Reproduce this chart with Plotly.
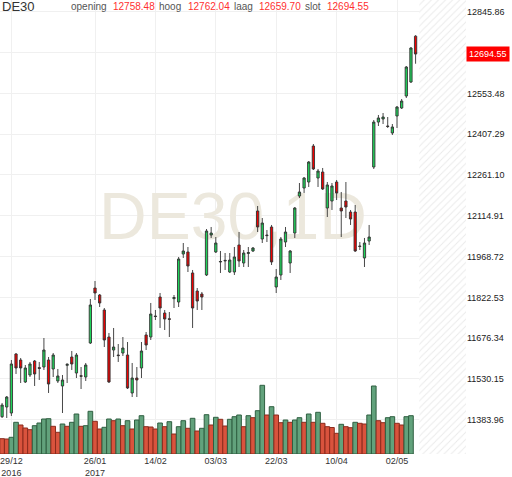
import plotly.graph_objects as go

# DE30 daily candles, bar index on the x axis (last bar = 08/05/2017)
opens = [11395.1, 11429.8, 11408.3, 11619.7, 11598.2, 11519.4, 11544.5, 11594.6, 11571.0, 11573.1,
         11598.2, 11566.0, 11523.0, 11505.1, 11579.0, 11609.0, 11551.6, 11542.0, 11537.3, 11659.1,
         11856.2, 11831.1, 11777.4, 11680.6, 11634.0, 11616.1, 11623.3, 11616.1, 11480.0, 11533.7,
         11569.6, 11687.8, 11680.6, 11755.9, 11823.9, 11766.6, 11746.0, 11818.0, 11806.0, 11978.0,
         11985.2, 11910.0, 11845.4, 11834.7, 11902.8, 12046.1, 11985.2, 11949.4, 11953.0, 11913.5,
         11913.5, 12010.3, 11945.8, 11980.0, 11988.8, 12132.1, 12031.8, 12046.1, 12074.8, 11859.8,
         11902.8, 12021.0, 11945.8, 12053.2, 12185.8, 12214.5, 12236.0, 12364.9, 12250.3, 12271.8,
         12142.8, 12167.9, 12236.0, 12142.8, 12167.9, 12128.5, 12128.5, 12006.7, 11963.7, 12024.6,
         12289.7, 12450.8, 12461.7, 12436.6, 12411.6, 12472.5, 12501.1, 12544.1, 12594.3, 12758.48]
highs = [11444.2, 11469.2, 11598.2, 11623.3, 11605.4, 11580.3, 11591.1, 11598.2, 11591.1, 11677.0,
         11609.0, 11623.3, 11566.0, 11544.5, 11586.0, 11630.5, 11623.3, 11573.1, 11587.5, 11816.8,
         11881.3, 11834.7, 11784.5, 11695.0, 11712.9, 11655.5, 11680.6, 11662.7, 11587.5, 11573.1,
         11662.7, 11698.5, 11802.5, 11777.4, 11838.3, 11777.4, 11770.2, 11831.1, 11967.3, 12017.4,
         12003.1, 11920.7, 11856.2, 11841.9, 12067.6, 12074.8, 12038.9, 11988.8, 11981.6, 11981.6,
         12003.1, 12056.8, 11992.3, 12003.1, 12003.1, 12150.0, 12107.0, 12064.0, 12082.0, 11924.3,
         12038.9, 12074.8, 11992.3, 12146.4, 12232.4, 12253.9, 12311.2, 12372.1, 12282.6, 12286.2,
         12236.0, 12232.4, 12243.2, 12200.2, 12236.0, 12135.7, 12153.6, 12021.0, 12035.4, 12082.0,
         12458.1, 12476.1, 12483.2, 12468.9, 12443.8, 12508.3, 12533.4, 12651.6, 12719.7, 12762.04]
lows = [11390.4, 11390.4, 11397.6, 11548.1, 11515.8, 11515.8, 11537.3, 11505.1, 11526.6, 11562.4,
        11480.0, 11537.3, 11515.8, 11408.3, 11515.8, 11562.4, 11533.7, 11494.3, 11523.0, 11655.5,
        11813.2, 11788.1, 11644.8, 11515.8, 11609.0, 11591.1, 11612.6, 11494.3, 11465.6, 11465.6,
        11533.7, 11634.0, 11669.9, 11741.5, 11712.9, 11705.7, 11680.6, 11784.5, 11788.1, 11963.7,
        11913.5, 11712.9, 11777.4, 11777.4, 11899.2, 12035.4, 11981.6, 11910.0, 11920.7, 11910.0,
        11902.8, 11931.4, 11931.4, 11931.4, 11985.2, 12056.8, 12017.4, 12021.0, 11938.6, 11838.3,
        11884.9, 12003.1, 11910.0, 12035.4, 12178.7, 12196.6, 12218.1, 12279.0, 12218.1, 12207.3,
        12110.6, 12135.7, 12171.5, 12038.9, 12107.0, 12082.0, 11985.2, 11992.3, 11931.4, 12010.3,
        12282.6, 12436.6, 12443.8, 12429.5, 12404.4, 12429.5, 12497.5, 12537.0, 12590.7, 12659.70]
closes = [11437.0, 11465.6, 11583.9, 11569.6, 11569.6, 11569.6, 11583.9, 11548.1, 11568.0, 11634.0,
          11512.2, 11616.1, 11540.9, 11526.6, 11583.0, 11583.9, 11616.1, 11540.0, 11580.3, 11795.3,
          11838.3, 11802.5, 11669.9, 11519.4, 11644.8, 11614.0, 11641.2, 11497.9, 11533.7, 11526.6,
          11630.5, 11652.0, 11763.0, 11754.0, 11784.5, 11745.1, 11744.0, 11822.0, 11960.1, 11988.8,
          11935.0, 11784.5, 11809.6, 11823.9, 12060.4, 12053.2, 12017.4, 11951.0, 11955.0, 11956.5,
          11967.3, 11953.0, 11981.6, 11983.0, 11999.5, 12074.8, 12089.1, 12044.0, 11949.4, 11895.6,
          12031.8, 12056.8, 11988.8, 12142.8, 12200.2, 12250.3, 12307.6, 12282.6, 12275.4, 12210.9,
          12225.3, 12221.7, 12196.6, 12132.1, 12146.4, 12103.4, 11988.8, 12005.0, 12017.4, 12038.9,
          12450.8, 12465.4, 12468.9, 12435.0, 12433.1, 12504.7, 12526.2, 12648.0, 12716.1, 12694.55]
# volume (last, still open bar has none yet)
volumes = [1530, 1500, 1670, 3170, 2900, 2600, 2430, 2830, 3100, 3500,
           3530, 2770, 2170, 3000, 2770, 3170, 4000, 2770, 2830, 4270,
           3270, 2500, 2670, 3500, 3330, 3500, 2830, 3330, 2500, 3400,
           3830, 2730, 2700, 2500, 3100, 2730, 3230, 2000, 2730, 3330,
           2570, 3570, 2300, 2570, 3930, 2900, 3670, 3470, 2800, 3470,
           3730, 3900, 2730, 3830, 3630, 4330, 6870, 3900, 4730, 3900,
           3130, 3400, 3170, 3400, 3630, 3170, 4000, 3170, 4170, 3070,
           2730, 2650, 2070, 2970, 2730, 2630, 3170, 3070, 3000, 3900,
           6800, 3330, 3130, 3630, 3730, 3070, 2900, 3730, 3830, None]

tick_pos = [2, 20, 33, 46, 59, 72, 85]
tick_text = ['29/12<br>2016', '26/01<br>2017', '14/02', '03/03', '22/03', '10/04', '02/05']
price_ticks = [11383.96, 11530.15, 11676.34, 11822.53, 11968.72, 12114.91,
               12261.10, 12407.29, 12553.48, 12699.67, 12845.86]

symbol = 'DE30'
period = '1D'

FONT = 'Liberation Sans, Arial, sans-serif'
idx = list(range(len(closes)))
x_range = [-0.45, 99.85]
price_range = [11261.4, 12888.1]
vol_range = [0, 45400]

# volume bars coloured by rise/fall of volume against the previous bar
vol_fill, vol_line = [], []
for i, v in enumerate(volumes):
    up = i > 0 and v is not None and volumes[i - 1] is not None and v >= volumes[i - 1]
    vol_fill.append('#62a27c' if up else '#d9533d')
    vol_line.append('#2f5f41' if up else '#8b2b1d')

# the tick label under the last-price marker is hidden by it
price_text = ['' if abs(v - closes[-1]) < 30 else f'{v:.2f}' for v in price_ticks]

fig = go.Figure()

# hatched "future" area right of the last bar
hatch_start = len(closes) - 0.2
fig.add_trace(go.Bar(
    x=[(hatch_start + x_range[1]) / 2], y=[1], base=0, width=[x_range[1] - hatch_start],
    yaxis='y', hoverinfo='skip', showlegend=False,
    marker=dict(color='white', line=dict(width=0),
                pattern=dict(shape='/', fgcolor='#d6d6d6', bgcolor='white', size=5, solidity=0.2))))

# watermark
fig.add_trace(go.Scatter(
    x=[sum(x_range) / 2], y=[0.51], mode='text', text=[symbol + ',' + period],
    textfont=dict(size=66, color='#ece8dd', family=FONT),
    yaxis='y', hoverinfo='skip', showlegend=False))

fig.add_trace(go.Bar(
    x=idx, y=volumes, width=1, yaxis='y3', hoverinfo='skip', showlegend=False,
    marker=dict(color=vol_fill, line=dict(color=vol_line, width=1))))

fig.add_trace(go.Candlestick(
    x=idx, open=opens, high=highs, low=lows, close=closes, yaxis='y2',
    whiskerwidth=0, showlegend=False,
    increasing=dict(fillcolor='#1fd35a', line=dict(color='#333333', width=0.9)),
    decreasing=dict(fillcolor='#f00000', line=dict(color='#333333', width=0.9))))

# header with last bar values
hy = 0.985
fig.add_annotation(x=0, y=hy, xref='paper', yref='paper', xanchor='left', yanchor='middle',
                   text=symbol, showarrow=False, font=dict(size=13, color='#333333', family=FONT))
header = [('opening', opens[-1], 69), ('hoog', highs[-1], 157),
          ('laag', lows[-1], 232), ('slot', closes[-1], 303)]
label_w = {'opening': 42, 'hoog': 29, 'laag': 25, 'slot': 22}
for name, val, px in header:
    fig.add_annotation(x=px / 466, y=hy, xref='paper', yref='paper', xanchor='left',
                       yanchor='middle', text=name, showarrow=False,
                       font=dict(size=10, color='#555555', family=FONT))
    fig.add_annotation(x=(px + label_w[name]) / 466, y=hy, xref='paper', yref='paper',
                       xanchor='left', yanchor='middle', text=f'{val:.2f}', showarrow=False,
                       font=dict(size=10, color='#ff3030', family=FONT))

# last price marker on the price axis
fig.add_annotation(x=1, y=closes[-1], xref='paper', yref='y2', xanchor='left', yanchor='middle',
                   text=f'{closes[-1]:.2f}', showarrow=False, bgcolor='#ff0000', borderpad=2,
                   font=dict(size=9, color='white', family=FONT))

fig.update_layout(
    width=512, height=477,
    margin=dict(l=0, r=46, t=0, b=23),
    paper_bgcolor='white', plot_bgcolor='white',
    font=dict(family=FONT, size=9, color='#222222'),
    showlegend=False, barmode='overlay',
    xaxis=dict(range=x_range, tickvals=tick_pos, ticktext=tick_text, showgrid=True,
               gridcolor='#f0f0f0', zeroline=False, showline=False, ticks='',
               rangeslider=dict(visible=False), tickfont=dict(size=9, color='#333333')),
    yaxis=dict(range=[0, 1], visible=False, fixedrange=True),
    yaxis2=dict(range=price_range, overlaying='y', side='right', tickvals=price_ticks,
                ticktext=price_text, showgrid=True, gridcolor='#f0f0f0', zeroline=False,
                showline=False, ticks='', tickfont=dict(size=9, color='#222222')),
    yaxis3=dict(range=vol_range, overlaying='y', visible=False),
)

# drop the browser's default page margin so the figure sits at the window corner
fig.write_html('out.html', config={'displayModeBar': False},
               post_script="document.body.style.margin='0';")
